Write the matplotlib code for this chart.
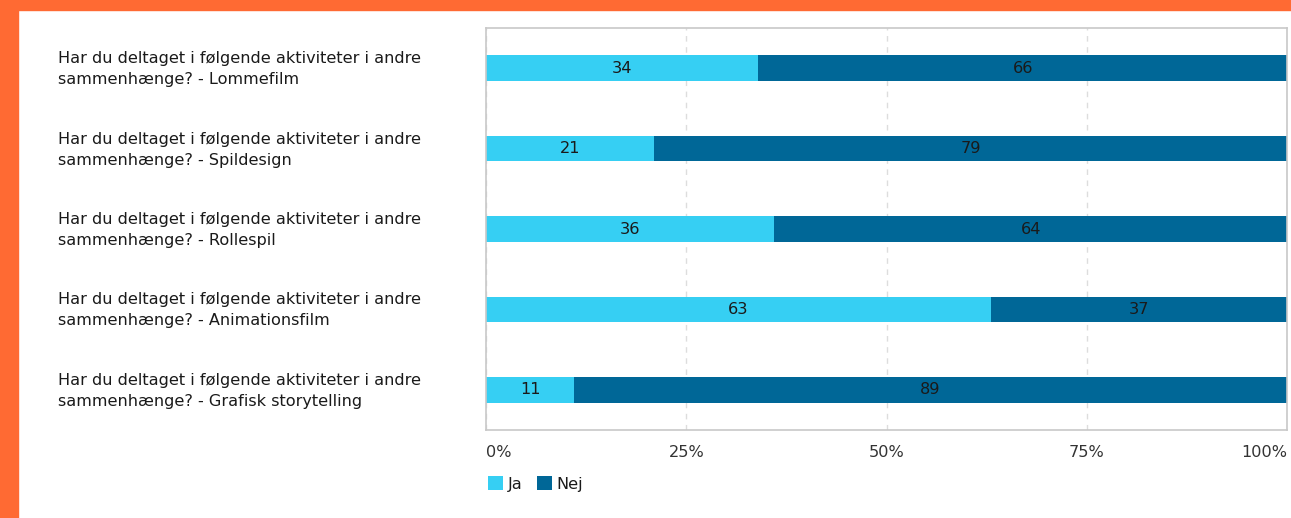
"""
Stacked horizontal bars: participation in activities (Ja / Nej, percent).
"""

import matplotlib.pyplot as plt
import matplotlib.transforms as mtransforms
from matplotlib.patches import Rectangle

questions = [
    "Har du deltaget i følgende aktiviteter i andre\nsammenhænge? - Lommefilm",
    "Har du deltaget i følgende aktiviteter i andre\nsammenhænge? - Spildesign",
    "Har du deltaget i følgende aktiviteter i andre\nsammenhænge? - Rollespil",
    "Har du deltaget i følgende aktiviteter i andre\nsammenhænge? - Animationsfilm",
    "Har du deltaget i følgende aktiviteter i andre\nsammenhænge? - Grafisk storytelling",
]
ja = [34, 21, 36, 63, 11]
nej = [66, 79, 64, 37, 89]
x_ticks = [0, 25, 50, 75, 100]
x_labels = ["0%", "25%", "50%", "75%", "100%"]

c_ja = "#36CFF3"
c_nej = "#006797"
orange = "#FF6A33"
fs = 11.6

plt.rcParams["font.family"] = ["DejaVu Sans"]

W, H = 1291, 518
fig = plt.figure(figsize=(W / 100, H / 100), dpi=100)

# orange frame on top and left
fig.patches.append(Rectangle((0, 1 - 10 / H), 1, 10 / H, transform=fig.transFigure,
                             color=orange, zorder=0))
fig.patches.append(Rectangle((0, 0), 18 / W, 1, transform=fig.transFigure,
                             color=orange, zorder=0))

ax = fig.add_axes([486 / W, 1 - 430 / H, (1287 - 486) / W, (430 - 28) / H])

y = list(range(len(questions)))
b1 = ax.barh(y, ja, height=0.32, color=c_ja, label="Ja", zorder=2)
b2 = ax.barh(y, nej, left=ja, height=0.32, color=c_nej, label="Nej", zorder=2)
ax.bar_label(b1, labels=[str(v) for v in ja], label_type="center",
             fontsize=fs, color="#1a1a1a")
ax.bar_label(b2, labels=[str(v) for v in nej], label_type="center",
             fontsize=fs, color="#1a1a1a")

ax.set_xlim(0, 100)
ax.set_ylim(len(questions) - 0.5, -0.5)

ax.set_xticks(x_ticks)
ax.set_xticklabels(x_labels, fontsize=fs, color="#333333")
tl = ax.get_xticklabels()
tl[0].set_ha("left")
tl[-1].set_ha("right")
ax.tick_params(axis="x", length=0, pad=11)

# category labels, left aligned in the white margin
ax.set_yticks(y)
ax.set_yticklabels([])
ax.tick_params(axis="y", length=0)
lab_tr = mtransforms.blended_transform_factory(fig.transFigure, ax.transData)
lab_tr = lab_tr + mtransforms.ScaledTranslation(0, -1 / 100, fig.dpi_scale_trans)
for yi, q in zip(y, questions):
    ax.text(58 / W, yi, q, transform=lab_tr, ha="left", va="center",
            fontsize=fs, color="#1a1a1a", linespacing=1.5)

ax.grid(axis="x", color="#dddddd", linestyle=(0, (4, 4)), linewidth=1, zorder=1)
for s in ax.spines.values():
    s.set_color("#c8c8c8")
    s.set_linewidth(1.2)

fig.legend(handles=[b1, b2], labels=["Ja", "Nej"], loc="upper left",
           bbox_to_anchor=(482 / W, 1 - 470 / H), ncol=2, frameon=False,
           fontsize=fs, handlelength=0.9, handleheight=0.9, handletextpad=0.3,
           columnspacing=0.9, borderaxespad=0, labelcolor="#1a1a1a")

plt.savefig("out.png", dpi=100)
